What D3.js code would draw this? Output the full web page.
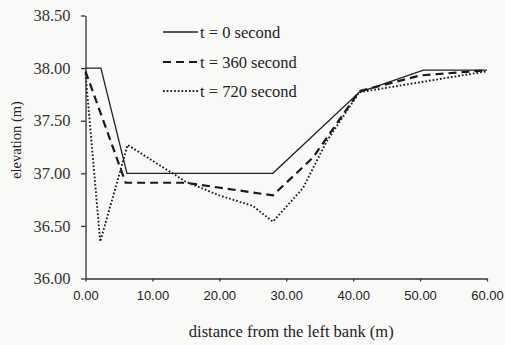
<!DOCTYPE html>
<html>
<head>
<meta charset="utf-8">
<script src="https://cdn.jsdelivr.net/npm/d3@7"></script>
<style>
  body { margin: 0; background: #f9f9f8; }
  svg { display: block; }
</style>
</head>
<body>
<div id="chart"></div>
<script>
// series (distance m, elevation m)
var distT0 = [0, 2.3, 6.2, 28, 40.9, 50.5, 60];
var elevT0 = [38.0, 38.0, 37.0, 37.0, 37.77, 37.98, 37.98];

var distT360 = [0, 6, 15, 28, 34, 40.9, 50, 60];
var elevT360 = [37.97, 36.91, 36.91, 36.79, 37.15, 37.78, 37.93, 37.98];

var distT720 = [0, 2.2, 6.3, 10, 15, 20, 25, 28, 32.5, 36, 40.9, 60];
var elevT720 = [37.95, 36.35, 37.27, 37.12, 36.92, 36.79, 36.69, 36.54, 36.86, 37.3, 37.77, 37.97];

var seriesNames = ["t = 0 second", "t = 360 second", "t = 720 second"];
var xTicks = [0, 10, 20, 30, 40, 50, 60];
var yTicks = [36.0, 36.5, 37.0, 37.5, 38.0, 38.5];

var width = 505, height = 345;
var margin = { top: 15.5, right: 18, bottom: 66.5, left: 85.5 };

var svg = d3.select("#chart").append("svg")
    .attr("width", width)
    .attr("height", height);

var x = d3.scaleLinear().domain([0, 60]).range([margin.left, width - margin.right]);
var y = d3.scaleLinear().domain([36, 38.5]).range([height - margin.bottom, margin.top]);

var serif = "Liberation Serif, Times New Roman, serif";
var sans = "Liberation Sans, Arial, sans-serif";

// axes
var xAxis = svg.append("g")
    .attr("transform", "translate(0," + y(36) + ")")
    .attr("font-family", sans)
    .call(d3.axisBottom(x).tickValues(xTicks).tickSize(3).tickSizeOuter(0)
        .tickFormat(d3.format(".2f")));
xAxis.selectAll("text")
    .attr("dy", "1.05em")
    .attr("y", 8)
    .attr("font-size", 13)
    .attr("fill", "#222");

var yAxis = svg.append("g")
    .attr("transform", "translate(" + x(0) + ",0)")
    .attr("font-family", serif)
    .call(d3.axisLeft(y).tickValues(yTicks).tickSize(4.5).tickSizeOuter(0)
        .tickFormat(d3.format(".2f")));
yAxis.attr("font-family", serif);
yAxis.selectAll("text")
    .attr("x", -15)
    .attr("font-size", 16.5)
    .attr("fill", "#333");

svg.selectAll(".domain, .tick line")
    .attr("stroke", "#333")
    .attr("stroke-width", 1.3);

// axis titles
svg.append("text")
    .attr("x", (x(0) + x(60)) / 2 + 5)
    .attr("y", 337)
    .attr("text-anchor", "middle")
    .attr("font-family", serif)
    .attr("font-size", 16.5)
    .attr("fill", "#222")
    .text("distance from the left bank (m)");

svg.append("text")
    .attr("transform", "translate(21,140) rotate(-90)")
    .attr("text-anchor", "middle")
    .attr("font-family", serif)
    .attr("font-size", 14.5)
    .attr("fill", "#222")
    .text("elevation (m)");

// lines
var styles = [
    { width: 1.3, dash: null, color: "#222" },
    { width: 2.2, dash: "8,5", color: "#1a1a1a" },
    { width: 1.9, dash: "1.7,2", color: "#1e1e1e" }
];
var series = [
    d3.zip(distT0, elevT0),
    d3.zip(distT360, elevT360),
    d3.zip(distT720, elevT720)
];

var line = d3.line()
    .x(function (d) { return x(d[0]); })
    .y(function (d) { return y(d[1]); });

series.forEach(function (s, i) {
    svg.append("path")
        .datum(s)
        .attr("fill", "none")
        .attr("stroke", styles[i].color)
        .attr("stroke-width", styles[i].width)
        .attr("stroke-dasharray", styles[i].dash)
        .attr("d", line);
});

// legend
var legendY = [32, 62, 91];
seriesNames.forEach(function (name, i) {
    var g = svg.append("g").attr("transform", "translate(163," + legendY[i] + ")");
    g.append("line")
        .attr("x1", 0).attr("x2", 35)
        .attr("stroke", styles[i].color)
        .attr("stroke-width", styles[i].width)
        .attr("stroke-dasharray", styles[i].dash);
    g.append("text")
        .attr("x", 37)
        .attr("y", 6)
        .attr("font-family", serif)
        .attr("font-size", 16.5)
        .attr("fill", "#222")
        .text(name);
});
</script>
</body>
</html>
